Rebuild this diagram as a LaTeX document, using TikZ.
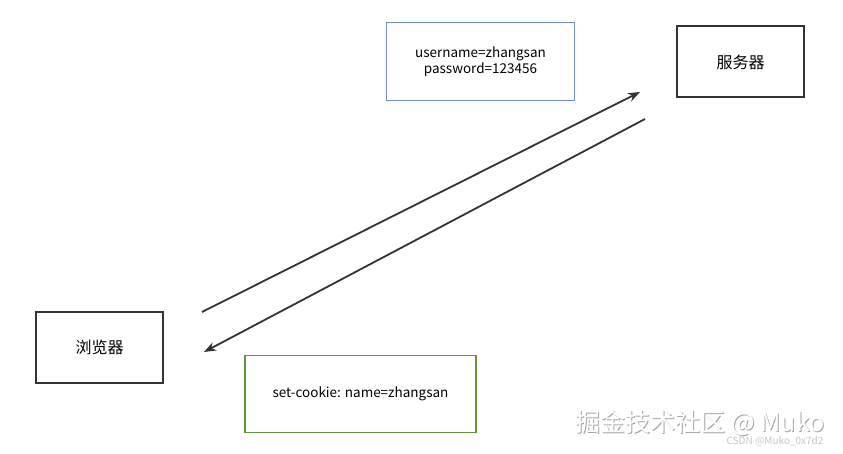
\documentclass[tikz,border=0pt]{standalone}
\usepackage{fontspec}
\setmainfont{Noto Sans CJK SC}
\usetikzlibrary{arrows.meta}
\definecolor{boxblue}{RGB}{108,142,219}
\definecolor{boxgreen}{RGB}{98,150,58}
\definecolor{linegray}{RGB}{51,51,51}
\begin{document}
\begin{tikzpicture}[x=1pt,y=-1pt,
  box/.style={draw=linegray,line width=2pt,minimum width=127pt,minimum height=71pt,inner sep=0pt,font=\fontsize{16}{18}\selectfont},
  msg/.style={draw,line width=1.8pt,inner sep=0pt,align=center,font=\fontsize{13.5}{15.5}\selectfont},
  flow/.style={draw=linegray,line width=1.8pt,-{Stealth[length=12pt,width=9pt]}}]
\useasboundingbox (0,0) rectangle (843,454);
\node[box] (browser) at (99.5,347.5) {浏览器};
\node[box] (server) at (740.5,62) {服务器};
\node[msg,draw=boxblue,minimum width=188pt,minimum height=78pt] (login) at (480.5,61.5) {username=zhangsan\\password=123456};
\node[msg,draw=boxgreen,minimum width=231pt,minimum height=77pt] (cookie) at (360.5,394) {set-cookie: name=zhangsan};
\coordinate (reqstart) at (202,312);
\coordinate (reqend) at (640,92);
\coordinate (respstart) at (645,119);
\coordinate (respend) at (204,352);
\draw[flow] (reqstart) -- (reqend);
\draw[flow] (respstart) -- (respend);
% watermark
\node[text=gray!70,font=\fontsize{25}{27}\selectfont,anchor=east] (markshadow) at (829,424) {掘金技术社区 @ Muko};
\node[text=white,font=\fontsize{25}{27}\selectfont,anchor=east] (mark) at (828,423) {掘金技术社区 @ Muko};
\node[text=gray!45,font=\fontsize{10}{12}\selectfont,anchor=east] (csdn) at (827,441) {CSDN @Muko\_0x7d2};
\end{tikzpicture}
\end{document}
